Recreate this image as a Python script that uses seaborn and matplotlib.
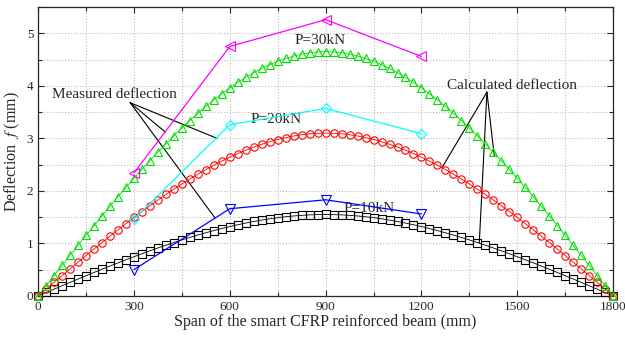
import numpy as np
import matplotlib
matplotlib.use('Agg')
import matplotlib.pyplot as plt
import seaborn as sns
from matplotlib.ticker import MultipleLocator

# --- data ---
span = np.arange(0, 1801, 25)   # calculated points every 25 mm

calc_10kN = [0, 0.065, 0.129, 0.193, 0.257, 0.321, 0.384, 0.446, 0.508, 0.569,
             0.629, 0.688, 0.746, 0.803, 0.859, 0.913, 0.965, 1.016, 1.066, 1.113,
             1.159, 1.202, 1.244, 1.283, 1.320, 1.355, 1.387, 1.417, 1.444, 1.468,
             1.489, 1.507, 1.522, 1.534, 1.543, 1.548, 1.550, 1.548, 1.543, 1.534,
             1.522, 1.507, 1.489, 1.468, 1.444, 1.417, 1.387, 1.355, 1.320, 1.283,
             1.244, 1.202, 1.159, 1.113, 1.066, 1.016, 0.965, 0.913, 0.859, 0.803,
             0.746, 0.688, 0.629, 0.569, 0.508, 0.446, 0.384, 0.321, 0.257, 0.193,
             0.129, 0.065, 0]
calc_20kN = [0, 0.129, 0.258, 0.387, 0.515, 0.642, 0.768, 0.893, 1.016, 1.138,
             1.258, 1.377, 1.493, 1.606, 1.717, 1.825, 1.931, 2.033, 2.131, 2.226,
             2.318, 2.405, 2.488, 2.567, 2.641, 2.710, 2.774, 2.834, 2.887, 2.936,
             2.978, 3.014, 3.045, 3.069, 3.086, 3.096, 3.100, 3.096, 3.086, 3.069,
             3.045, 3.014, 2.978, 2.936, 2.887, 2.834, 2.774, 2.710, 2.641, 2.567,
             2.488, 2.405, 2.318, 2.226, 2.131, 2.033, 1.931, 1.825, 1.717, 1.606,
             1.493, 1.377, 1.258, 1.138, 1.016, 0.893, 0.768, 0.642, 0.515, 0.387,
             0.258, 0.129, 0]
calc_30kN = [0, 0.194, 0.387, 0.580, 0.772, 0.962, 1.152, 1.339, 1.525, 1.707,
             1.888, 2.065, 2.239, 2.409, 2.576, 2.738, 2.896, 3.049, 3.197, 3.339,
             3.476, 3.607, 3.732, 3.850, 3.961, 4.065, 4.162, 4.250, 4.331, 4.403,
             4.467, 4.522, 4.567, 4.603, 4.629, 4.645, 4.650, 4.645, 4.629, 4.603,
             4.567, 4.522, 4.467, 4.403, 4.331, 4.250, 4.162, 4.065, 3.961, 3.850,
             3.732, 3.607, 3.476, 3.339, 3.197, 3.049, 2.896, 2.738, 2.576, 2.409,
             2.239, 2.065, 1.888, 1.707, 1.525, 1.339, 1.152, 0.962, 0.772, 0.580,
             0.387, 0.194, 0]

meas_span = [300, 600, 900, 1200]
meas_10kN = [0.50, 1.66, 1.83, 1.56]
meas_20kN = [1.46, 3.26, 3.57, 3.09]
meas_30kN = [2.34, 4.75, 5.26, 4.56]

sns.set_style('ticks')
plt.rcParams['font.family'] = ['Liberation Serif', 'DejaVu Serif']
plt.rcParams['mathtext.fontset'] = 'stix'

fig = plt.figure(figsize=(6.25, 3.37), dpi=100)
ax = fig.add_axes([0.061, 0.122, 0.920, 0.857])

# --- calculated curves ---
calc = [(calc_10kN, 'black', 's'), (calc_20kN, 'red', 'o'), (calc_30kN, '#00e000', '^')]
for vals, col, mk in calc:
    sns.lineplot(x=span, y=vals, ax=ax, color=col, marker=mk, markersize=5.3,
                 markerfacecolor='none', markeredgecolor=col, markeredgewidth=0.8,
                 linewidth=0.6, clip_on=False, zorder=3)

# --- measured ---
meas = [(meas_10kN, 'blue', 'v'), (meas_20kN, 'cyan', 'D'), (meas_30kN, 'magenta', '<')]
for vals, col, mk in meas:
    sns.lineplot(x=meas_span, y=vals, ax=ax, color=col, marker=mk, markersize=6.5 if mk != 'D' else 5.5,
                 markerfacecolor='none', markeredgecolor=col, markeredgewidth=0.8,
                 linewidth=0.9, zorder=4)

ax.set_xlim(0, 1800)
ax.set_ylim(0, 5.5)
ax.xaxis.set_major_locator(MultipleLocator(300))
ax.xaxis.set_minor_locator(MultipleLocator(150))
ax.yaxis.set_major_locator(MultipleLocator(1))
ax.yaxis.set_minor_locator(MultipleLocator(0.5))
ax.tick_params(which='both', direction='in', top=True, right=True, labelsize=9.5, width=0.8)
ax.tick_params(which='major', length=4)
ax.tick_params(which='minor', length=3)
ax.grid(True, which='both', color='#bdbdbd', linestyle=':', linewidth=0.8)
for s in ax.spines.values():
    s.set_linewidth(0.9)

ax.set_xlabel('Span of the smart CFRP reinforced beam (mm)', fontsize=11.5, labelpad=1)
ax.set_ylabel('Deflection  $f$ (mm)', fontsize=11.5, labelpad=3)

# --- labels and leader lines ---
ax.text(884, 4.86, 'P=30kN', fontsize=11, ha='center', va='center')
ax.text(746, 3.35, 'P=20kN', fontsize=11, ha='center', va='center')
ax.text(1035, 1.66, 'P=10kN', fontsize=11, ha='center', va='center')

ax.text(238, 3.84, 'Measured deflection', fontsize=11, ha='center', va='center')
for ex, ey in [(560, 3.00), (398, 3.12), (553, 1.49)]:
    ax.plot([288, ex], [3.68, ey], color='black', lw=0.8)

ax.text(1483, 4.0, 'Calculated deflection', fontsize=11, ha='center', va='center')
for ex, ey in [(1266, 2.46), (1428, 2.66), (1381, 1.01)]:
    ax.plot([1405, ex], [3.88, ey], color='black', lw=0.8)

fig.savefig('out.png', dpi=100)
